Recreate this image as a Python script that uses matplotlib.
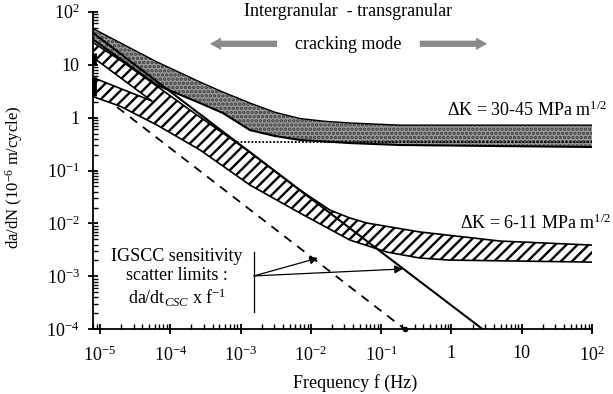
import numpy as np
import matplotlib
matplotlib.use("Agg")
import matplotlib.pyplot as plt
from matplotlib.ticker import LogLocator, FixedLocator, FixedFormatter, NullFormatter

plt.rcParams['font.family'] = ['Liberation Serif', 'DejaVu Serif']
plt.rcParams['mathtext.fontset'] = 'custom'
plt.rcParams['mathtext.rm'] = 'Liberation Serif'
plt.rcParams['mathtext.it'] = 'Liberation Serif:italic'
plt.rcParams['hatch.linewidth'] = 1.7

# dK = 30-45 MPa m^1/2 band (stippled grey)
gray_f = [8.2e-6, 6.5e-5, 2.65e-4, 5.6e-4, 1.36e-3, 3.08e-3, 7.0e-3, 1.59e-2, 3.6e-2, 0.185, 100]
gray_hi = [47, 11.2, 4.7, 3.04, 1.88, 1.26, 0.96, 0.85, 0.79, 0.72, 0.72]
gray_lo = [29, 4.1, 1.88, 1.22, 0.58, 0.449, 0.377, 0.353, 0.33, 0.303, 0.278]
dot_f = [8.9e-4, 100]
dot_y = [0.345, 0.345]

# dK = 6-11 MPa m^1/2 band (hatched)
hat_top_f = [8.2e-6, 2.12e-5, 6.5e-5, 1.9e-4, 1.36e-3, 7.0e-3, 1.87e-2, 3.6e-2, 6.3e-2, 0.356, 4.9, 100]
hat_top_y = [25.6, 11.2, 3.9, 1.39, 0.223, 0.0428, 0.0179, 0.01265, 0.01017, 6.9e-3, 4.65e-3, 3.9e-3]
hat_bot_f = [8.2e-6, 1.92e-5, 6.5e-5, 2.65e-4, 1.36e-3, 7.0e-3, 3.6e-2, 0.121, 0.356, 0.95, 100]
hat_bot_y = [2.45, 1.65, 0.72, 0.244, 0.0532, 0.0157, 4.85e-3, 2.88e-3, 2.22e-3, 2.03e-3, 1.86e-3]
# gap between the two branches at low frequency
gap_f = [8.2e-6, 5.5e-5, 8.2e-6]
gap_y = [5.6, 2.05, 13.3]

# scatter limits da/dt_CSC x f^-1
solid_f = [8.0e-6, 2.8]
solid_y = [39.6, 1e-4]
dash_f = [1.75e-5, 0.218]
dash_y = [1.58, 1e-4]

# data marks on the axis
axis_marks = [(10, 16.6), (2.6, 5.8)]

xticks = [1e-5, 1e-4, 1e-3, 1e-2, 1e-1, 1, 10, 100]
xlabels = ['10$^{-5}$', '10$^{-4}$', '10$^{-3}$', '10$^{-2}$', '10$^{-1}$', '1', '10', '10$^{2}$']
yticks = [1e-4, 1e-3, 1e-2, 1e-1, 1, 10, 100]
ylabels = ['10$^{-4}$', '10$^{-3}$', '10$^{-2}$', '10$^{-1}$', '1', '10', '10$^{2}$']

fs = 13

fig = plt.figure(figsize=(6.13, 3.94), dpi=100)
ax = fig.add_axes([0.1517, 0.1642, 0.8140, 0.8061])
ax.set_xscale('log')
ax.set_yscale('log')
ax.set_xlim(7.95e-6, 100)
ax.set_ylim(1e-4, 100)

# grey band
gx = gray_f + gray_f[::-1]
gy = gray_hi + gray_lo[::-1]
ax.fill(gx, gy, facecolor='#9c9c9c', edgecolor='#3c3c3c', hatch='....', linewidth=0, zorder=2)
ax.plot(gray_f, gray_hi, color='black', lw=1.0, zorder=3)
ax.plot(gray_f, gray_lo, color='black', lw=1.5, zorder=3)
ax.plot(dot_f, dot_y, color='black', lw=1.3, ls=(0, (1, 1)), zorder=3)

# hatched band polygon (with notch between the two branches)
hx = hat_top_f + hat_bot_f[::-1] + gap_f
hy = hat_top_y + hat_bot_y[::-1] + gap_y
ax.fill(hx, hy, facecolor='white', edgecolor='black', hatch='///', linewidth=0, zorder=2)
ax.plot(hat_top_f, hat_top_y, color='black', lw=1.2, zorder=3)
ax.plot(hat_bot_f, hat_bot_y, color='black', lw=1.2, zorder=3)
ax.plot(gap_f, gap_y, color='black', lw=1.2, zorder=3)

ax.plot(solid_f, solid_y, color='black', lw=1.5, zorder=4)
ax.plot(dash_f, dash_y, color='black', lw=1.3, ls=(0, (5, 4)), zorder=4)
ax.plot(dash_f[-1], dash_y[-1], 'o', color='black', ms=3, clip_on=False, zorder=5)

for lo, hi in axis_marks:
    ax.plot([8.1e-6, 8.1e-6], [lo, hi], color='black', lw=3.5, solid_capstyle='butt', clip_on=False, zorder=5)

# IGSCC annotation
ax.plot([1.55e-3, 1.55e-3], [2.9e-3, 2.1e-4], color='black', lw=0.9)
ax.annotate('', xy=(1.26e-2, 2.22e-3), xytext=(1.55e-3, 1.02e-3),
            arrowprops=dict(arrowstyle='-|>', color='black', lw=0.9, mutation_scale=12, shrinkA=0, shrinkB=0))
ax.annotate('', xy=(0.204, 1.38e-3), xytext=(1.55e-3, 1.02e-3),
            arrowprops=dict(arrowstyle='-|>', color='black', lw=0.9, mutation_scale=12, shrinkA=0, shrinkB=0))
ax.text(0.168, 0.161, 'IGSCC sensitivity\nscatter limits :\nda/dt$_{\\mathit{CSC}}$ x f$^{-1}$',
        transform=ax.transAxes, ha='center', va='center', fontsize=fs, linespacing=1.15)

# cracking mode header
ax.text(0.511, 1.0, 'Intergranular  - transgranular', transform=ax.transAxes,
        ha='center', va='center', fontsize=fs)
ax.text(0.511, 0.896, 'cracking mode', transform=ax.transAxes, ha='center', va='center', fontsize=fs)
for x0, x1 in [(0.369, 0.2345), (0.655, 0.790)]:
    ax.annotate('', xy=(x1, 0.899), xytext=(x0, 0.899), xycoords='axes fraction',
                arrowprops=dict(arrowstyle='simple,head_length=0.8,head_width=0.9,tail_width=0.45',
                                color='#8a8a8a', lw=0, shrinkA=0, shrinkB=0))

ax.text(0.709, 0.69, '\u0394K = 30-45 MPa m$^{1/2}$', transform=ax.transAxes,
        ha='left', va='center', fontsize=fs, clip_on=False)
ax.text(0.735, 0.335, '\u0394K = 6-11 MPa m$^{1/2}$', transform=ax.transAxes,
        ha='left', va='center', fontsize=fs, clip_on=False)

# axes styling
for s in ['top', 'right']:
    ax.spines[s].set_visible(False)
for s in ['left', 'bottom']:
    ax.spines[s].set_linewidth(1.3)
ax.xaxis.set_major_locator(FixedLocator(xticks))
ax.xaxis.set_major_formatter(FixedFormatter(xlabels))
ax.yaxis.set_major_locator(FixedLocator(yticks))
ax.yaxis.set_major_formatter(FixedFormatter(ylabels))
ax.xaxis.set_minor_locator(LogLocator(base=10, subs=np.arange(2, 10), numticks=100))
ax.yaxis.set_minor_locator(LogLocator(base=10, subs=np.arange(2, 10), numticks=100))
ax.xaxis.set_minor_formatter(NullFormatter())
ax.yaxis.set_minor_formatter(NullFormatter())
ax.tick_params(which='major', direction='inout', length=7, width=1.3, labelsize=fs)
ax.tick_params(which='minor', direction='in', length=3.5, width=1.0)
ax.tick_params(axis='x', which='major', pad=8)
ax.tick_params(axis='y', which='major', pad=6)

ax.set_xlabel('Frequency f (Hz)', fontsize=fs)
ax.set_ylabel('da/dN (10$^{-6}$ m/cycle)', fontsize=12)
ax.xaxis.set_label_coords(0.525, -0.14)
ax.yaxis.set_label_coords(-0.137, 0.48)

fig.savefig('out.png', dpi=100)
